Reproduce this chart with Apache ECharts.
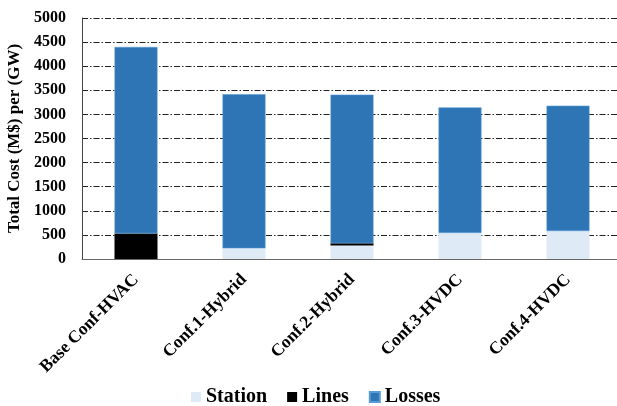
<!DOCTYPE html>
<html>
<head>
<meta charset="utf-8">
<script src="https://cdn.jsdelivr.net/npm/echarts@6/dist/echarts.min.js"></script>
<style>
  html, body { margin: 0; padding: 0; background: #fff; }
  #chart { width: 617px; height: 406px; }
</style>
</head>
<body>
<div id="chart"></div>
<script>
// Cost breakdown per configuration (M$ per GW)
const categories = ['Base Conf-HVAC', 'Conf.1-Hybrid', 'Conf.2-Hybrid', 'Conf.3-HVDC', 'Conf.4-HVDC'];
const station = [0, 220, 280, 540, 580];
const lines = [530, 0, 45, 0, 0];
const losses = [3870, 3200, 3085, 2605, 2600];
const yTicks = [0, 500, 1000, 1500, 2000, 2500, 3000, 3500, 4000, 4500, 5000];

const serif = '"Liberation Serif", "Times New Roman", serif';
const chart = echarts.init(document.getElementById('chart'), null, { renderer: 'canvas' });

const barBase = { type: 'bar', stack: 'total', barWidth: 43 };

chart.setOption({
  animation: false,
  backgroundColor: '#ffffff',
  grid: {
    left: 82, top: 18, width: 540, bottom: 147,
    containLabel: false,
    outerBoundsMode: 'none'
  },
  legend: {
    top: 382,
    left: 186,
    itemWidth: 10,
    itemHeight: 10,
    itemGap: 20,
    textStyle: { fontFamily: serif, fontWeight: 'bold', fontSize: 20, color: '#000' },
    data: ['Station', 'Lines', 'Losses'],
    icon: 'rect'
  },
  xAxis: {
    type: 'category',
    data: categories,
    axisLine: { lineStyle: { color: '#666', width: 1 } },
    axisTick: { show: false },
    axisLabel: {
      rotate: 45,
      interval: 0,
      margin: 18,
      fontFamily: serif,
      fontWeight: 'bold',
      fontSize: 17.5,
      color: '#000'
    }
  },
  yAxis: {
    type: 'value',
    min: yTicks[0],
    max: yTicks[yTicks.length - 1],
    interval: 500,
    name: 'Total Cost (M$) per (GW)',
    nameLocation: 'middle',
    nameGap: 57,
    nameTextStyle: { fontFamily: serif, fontWeight: 'bold', fontSize: 17, color: '#000' },
    axisLine: { show: true, lineStyle: { color: '#444', width: 1 } },
    axisTick: { show: false },
    axisLabel: {
      margin: 16,
      formatter: (v) => String(v),
      fontFamily: serif,
      fontWeight: 'bold',
      fontSize: 16,
      color: '#000'
    },
    splitLine: {
      show: true,
      lineStyle: { color: '#222', width: 1, type: [6, 2, 1.5, 2] }
    }
  },
  series: [
    Object.assign({}, barBase, {
      name: 'Station',
      data: station,
      itemStyle: { color: '#DEEBF7' }
    }),
    Object.assign({}, barBase, {
      name: 'Lines',
      data: lines,
      itemStyle: { color: '#000000' }
    }),
    Object.assign({}, barBase, {
      name: 'Losses',
      data: losses,
      itemStyle: { color: '#2E75B6', borderColor: '#5B9BD5', borderWidth: 0.6 }
    })
  ]
});
</script>
</body>
</html>
